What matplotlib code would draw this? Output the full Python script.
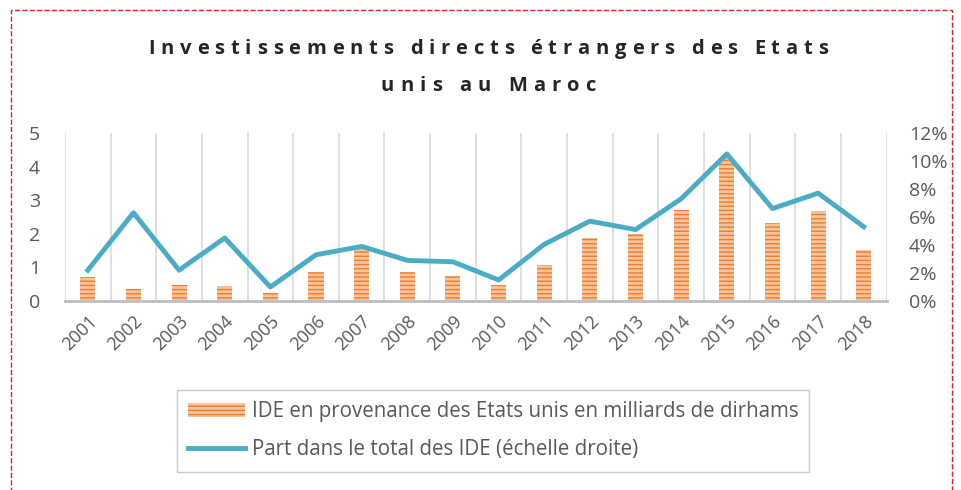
import numpy as np
import matplotlib.pyplot as plt
from matplotlib.patches import Rectangle

# ---------- Donnees ----------
annees = ['2001', '2002', '2003', '2004', '2005', '2006', '2007', '2008', '2009',
          '2010', '2011', '2012', '2013', '2014', '2015', '2016', '2017', '2018']
ide_mds = [0.70, 0.37, 0.47, 0.45, 0.25, 0.85, 1.54, 0.85, 0.73,
           0.48, 1.06, 1.86, 1.98, 2.72, 4.25, 2.33, 2.69, 1.51]
part_pct = [2.2, 6.3, 2.2, 4.5, 1.0, 3.3, 3.9, 2.9, 2.8,
            1.5, 4.05, 5.7, 5.1, 7.3, 10.5, 6.6, 7.7, 5.3]
y_gauche = [0, 1, 2, 3, 4, 5]
y_droite = [0, 2, 4, 6, 8, 10, 12]

titre = ["Investissements directs étrangers des Etats", "unis au Maroc"]
lbl_barres = "IDE en provenance des Etats unis en milliards de dirhams"
lbl_ligne = "Part dans le total des IDE (échelle droite)"

GRIS = '#595959'
BLEU = '#4BACC6'

plt.rcParams['font.family'] = ['Open Sans', 'DejaVu Sans']

fig = plt.figure(figsize=(9.61, 4.90), dpi=100)
ax = fig.add_axes([0.0676, 0.3857, 0.855, 0.343])
x = np.arange(len(annees))

ax.bar(x, ide_mds, width=0.33, color='#F6C49C', edgecolor='#ED7D31',
       hatch='----', linewidth=0, label=lbl_barres, zorder=2)
ax.set_xlim(-0.5, len(annees) - 0.5)
ax.set_ylim(0, 5)
ax.set_yticks(y_gauche)
ax.set_xticks(x)
ax.set_xticklabels(annees, rotation=45, ha='right', rotation_mode='anchor')

# grille verticale entre les categories
for b in np.arange(-0.5, len(annees), 1.0):
    ax.axvline(b, color='#D9D9D9', lw=1.2, zorder=0)

ax2 = ax.twinx()
ax2.plot(x, part_pct, color=BLEU, lw=3.5, label=lbl_ligne, zorder=3)
ax2.set_ylim(0, 12)
ax2.set_yticks(y_droite)
ax2.set_yticklabels([f"{v}%" for v in y_droite])

for a in (ax, ax2):
    for s in ('top', 'left', 'right'):
        a.spines[s].set_visible(False)
    a.tick_params(length=0, colors=GRIS, labelsize=14)
ax.spines['bottom'].set_color('#BFBFBF')
ax.spines['bottom'].set_linewidth(2)
ax2.spines['bottom'].set_visible(False)
ax.tick_params(axis='x', pad=8, labelsize=13)
ax.tick_params(axis='y', pad=18)
ax2.tick_params(axis='y', pad=16)

# titre avec espacement des lettres (comme dans Excel)
renderer = fig.canvas.get_renderer()
W, H = fig.bbox.width, fig.bbox.height
for ligne, y_base, largeur in [(titre[0], 54, 680), (titre[1], 91, 215)]:
    tailles = []
    for c in ligne:
        t = fig.text(0, 0, c if c != ' ' else 'n', fontsize=14.5, fontweight='bold')
        tailles.append(t.get_window_extent(renderer).width if c != ' ' else 5)
        t.remove()
    extra = (largeur - sum(tailles)) / (len(ligne) - 1)
    x0 = 488 - largeur / 2
    for c, w in zip(ligne, tailles):
        if c != ' ':
            fig.text(x0 / W, 1 - y_base / H, c, fontsize=14.5,
                     fontweight='bold', color='#262626', va='baseline', ha='left')
        x0 += w + extra

h1, l1 = ax.get_legend_handles_labels()
h2, l2 = ax2.get_legend_handles_labels()
leg = fig.legend(h1 + h2, l1 + l2, loc='center', bbox_to_anchor=(0.513, 0.121),
                 ncol=1, frameon=True, fontsize=14.8, fancybox=False,
                 edgecolor='#BFBFBF', labelcolor=GRIS, handlelength=2.8,
                 handletextpad=0.3, labelspacing=0.85, borderpad=0.55)

# cadre pointille rouge
fig.patches.append(Rectangle((0.011, -0.02), 0.98, 1.0, transform=fig.transFigure,
                             fill=False, edgecolor='#E02020', lw=1, ls='--'))

fig.savefig('out.png', dpi=100)
